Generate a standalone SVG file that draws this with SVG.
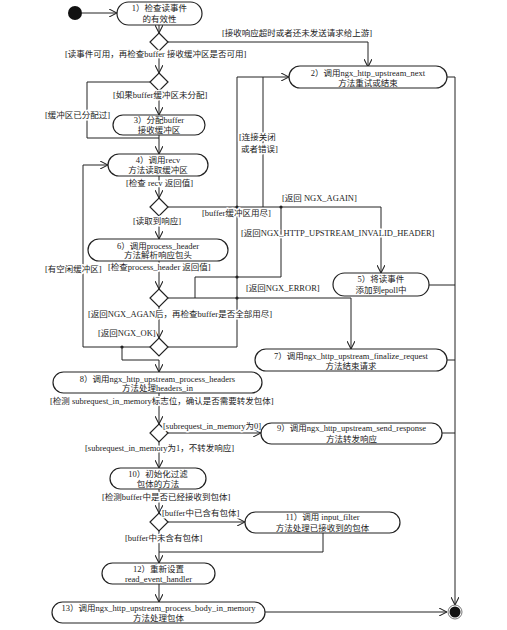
<svg xmlns="http://www.w3.org/2000/svg" width="507" height="630" viewBox="0 0 507 630">
<style>
text{font-family:"Liberation Serif","Noto Sans CJK SC",serif;font-size:8.5px;fill:#222}
.node rect{fill:#fff;stroke:#222;stroke-width:1.2}
.node text{text-anchor:middle}
.lbl{paint-order:stroke;stroke:#fff;stroke-width:3px;stroke-linejoin:round}
#connectors path{fill:none;stroke:#222;stroke-width:1}
.dia{fill:#fff;stroke:#222;stroke-width:1.2}
.dot{fill:#222}
</style>
<defs>
<marker id="arr" viewBox="0 0 10 10" refX="10" refY="5" markerWidth="8" markerHeight="8" markerUnits="userSpaceOnUse" orient="auto">
<path d="M0,0 L10,5 L0,10" fill="none" stroke="#222" stroke-width="1.3"/>
</marker>
</defs>
<rect width="507" height="630" fill="#fff"/>

<g id="connectors">
<path d="M82,13 H117" marker-end="url(#arr)"/>
<path d="M159,25 V33" marker-end="url(#arr)"/>
<path d="M168,42 H368 V67" marker-end="url(#arr)"/>
<path d="M159,51 V73" marker-end="url(#arr)"/>
<path d="M150,82 H87 V138 H159"/>
<path d="M159,91 V115" marker-end="url(#arr)"/>
<path d="M159,135 V154" marker-end="url(#arr)"/>
<path d="M159,176 V198" marker-end="url(#arr)"/>
<path d="M168,207 H381 V273" marker-end="url(#arr)"/>
<path d="M237,347 V77 H289" marker-end="url(#arr)"/>
<path d="M263,77 V207"/>
<path d="M159,216 V239" marker-end="url(#arr)"/>
<path d="M159,261 V289" marker-end="url(#arr)"/>
<path d="M168,298 H351 V349" marker-end="url(#arr)"/>
<path d="M195,298 V277 H281 V207"/>
<path d="M159,307 V338" marker-end="url(#arr)"/>
<path d="M150,347 H83 V165 H108" marker-end="url(#arr)"/>
<path d="M168,347 H237"/>
<path d="M122,347 V360 H159 V372" marker-end="url(#arr)"/>
<path d="M159,393 V424" marker-end="url(#arr)"/>
<path d="M168,433 H261" marker-end="url(#arr)"/>
<path d="M159,442 V468" marker-end="url(#arr)"/>
<path d="M159,489 V513" marker-end="url(#arr)"/>
<path d="M168,522 H245" marker-end="url(#arr)"/>
<path d="M159,531 V563" marker-end="url(#arr)"/>
<path d="M323,533 V552 H159"/>
<path d="M159,584 V602" marker-end="url(#arr)"/>
<path d="M265,612 H447" marker-end="url(#arr)"/>
<path d="M447,77 H455 V605" marker-end="url(#arr)"/>
<path d="M429,285 H455"/>
<path d="M447,360 H455"/>
<path d="M442,433 H455"/>
<circle class="dot" cx="237" cy="207" r="1.6"/>
<circle class="dot" cx="281" cy="207" r="1.6"/>
<circle class="dot" cx="237" cy="277" r="1.6"/>
<circle class="dot" cx="237" cy="298" r="1.6"/>
<circle class="dot" cx="122" cy="347" r="1.6"/>
<polygon class="dia" points="159,33 168,42 159,51 150,42"/>
<polygon class="dia" points="159,73 168,82 159,91 150,82"/>
<polygon class="dia" points="159,198 168,207 159,216 150,207"/>
<polygon class="dia" points="159,289 168,298 159,307 150,298"/>
<polygon class="dia" points="159,338 168,347 159,356 150,347"/>
<polygon class="dia" points="159,424 168,433 159,442 150,433"/>
<polygon class="dia" points="159,513 168,522 159,531 150,522"/>
</g>

<g id="labels">
<text class="lbl" x="222" y="36">[接收响应超时或者还未发送请求给上游]</text>
<text class="lbl" x="65" y="57">[读事件可用，再检查buffer 接收缓冲区是否可用]</text>
<text class="lbl" x="113" y="98">[如果buffer缓冲区未分配]</text>
<text class="lbl" x="45" y="118">[缓冲区已分配过]</text>
<text class="lbl" x="239" y="140">[连接关闭</text>
<text class="lbl" x="241" y="152">或者错误]</text>
<text class="lbl" x="126" y="186">[检查 recv 返回值]</text>
<text class="lbl" x="133" y="224">[读取到响应]</text>
<text class="lbl" x="202" y="216">[buffer缓冲区用尽]</text>
<text class="lbl" x="282" y="201">[返回 NGX_AGAIN]</text>
<text class="lbl" x="241" y="236">[返回NGX_HTTP_UPSTREAM_INVALID_HEADER]</text>
<text class="lbl" x="45" y="272">[有空闲缓冲区]</text>
<text class="lbl" x="108" y="270">[检查process_header 返回值]</text>
<text class="lbl" x="246" y="291">[返回NGX_ERROR]</text>
<text class="lbl" x="88" y="317">[返回NGX_AGAN后，再检查buffer是否全部用尽]</text>
<text class="lbl" x="98" y="336">[返回NGX_OK]</text>
<text class="lbl" x="50" y="404">[检测 subrequest_in_memory标志位，确认是否需要转发包体]</text>
<text class="lbl" x="163" y="429">[subrequest_in_memory为0]</text>
<text class="lbl" x="85" y="451">[subrequest_in_memory为1，不转发响应]</text>
<text class="lbl" x="102" y="500">[检测buffer中是否已经接收到包体]</text>
<text class="lbl" x="162" y="516">[buffer中已含有包体]</text>
<text class="lbl" x="125" y="541">[buffer中未含有包体]</text>
</g>

<g id="start"><circle cx="75" cy="13" r="7" fill="#111"/></g>
<g id="end"><circle cx="455" cy="612" r="7" fill="#fff" stroke="#555" stroke-width="0.8"/><circle cx="455" cy="612" r="5.5" fill="#111"/></g>

<g id="n1" class="node"><rect x="117" y="2" width="85" height="23" rx="11.5"/><text x="159.5" y="11">1）检查读事件</text><text x="159.5" y="22">的有效性</text></g>
<g id="n2" class="node"><rect x="289" y="66" width="158" height="22" rx="11"/><text x="368" y="76">2）调用ngx_http_upstream_next</text><text x="368" y="86">方法重试或结束</text></g>
<g id="n3" class="node"><rect x="113" y="115" width="92" height="20" rx="10"/><text x="159" y="123">3）分配buffer</text><text x="159" y="133">接收缓冲区</text></g>
<g id="n4" class="node"><rect x="108" y="154" width="100" height="22" rx="11"/><text x="158" y="163">4）调用recv</text><text x="158" y="173">方法读取缓冲区</text></g>
<g id="n5" class="node"><rect x="333" y="273" width="96" height="23" rx="11.5"/><text x="381" y="282">5）将读事件</text><text x="381" y="293">添加到epoll中</text></g>
<g id="n6" class="node"><rect x="88" y="239" width="140" height="22" rx="11"/><text x="158" y="249">6）调用process_header</text><text x="158" y="258">方法解析响应包头</text></g>
<g id="n7" class="node"><rect x="255" y="349" width="192" height="22" rx="11"/><text x="351" y="359">7）调用ngx_http_upstream_finalize_request</text><text x="351" y="369">方法结束请求</text></g>
<g id="n8" class="node"><rect x="53" y="372" width="209" height="21" rx="10.5"/><text x="157.5" y="382">8）调用ngx_http_upstream_process_headers</text><text x="157.5" y="391">方法处理headers_in</text></g>
<g id="n9" class="node"><rect x="261" y="423" width="181" height="21" rx="10.5"/><text x="351.5" y="431">9）调用ngx_http_upstream_send_response</text><text x="351.5" y="442">方法转发响应</text></g>
<g id="n10" class="node"><rect x="110" y="468" width="96" height="21" rx="10.5"/><text x="158" y="477">10）初始化过滤</text><text x="158" y="487">包体的方法</text></g>
<g id="n11" class="node"><rect x="245" y="512" width="155" height="21" rx="10.5"/><text x="322.5" y="520">11）调用 input_filter</text><text x="322.5" y="531">方法处理已接收到的包体</text></g>
<g id="n12" class="node"><rect x="102" y="563" width="113" height="21" rx="10.5"/><text x="158.5" y="572">12）重新设置</text><text x="158.5" y="582">read_event_handler</text></g>
<g id="n13" class="node"><rect x="52" y="602" width="213" height="21" rx="10.5"/><text x="158.5" y="611">13）调用ngx_http_upstream_process_body_in_memory</text><text x="158.5" y="621">方法处理包体</text></g>
</svg>
